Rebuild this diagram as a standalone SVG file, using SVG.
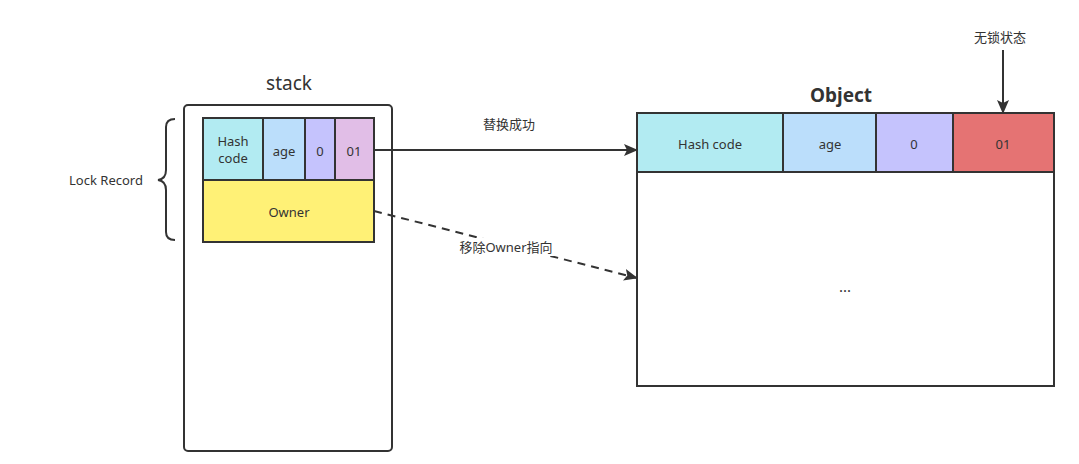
<svg xmlns="http://www.w3.org/2000/svg" width="1079" height="464" viewBox="0 0 1079 464">
<style>
text{font-family:"Noto Sans","Noto Sans CJK SC",sans-serif;fill:#333;text-anchor:middle;dominant-baseline:central}
.s{font-size:13px}
.c{stroke:#333;stroke-width:2}
.l{stroke:#333;stroke-width:2;fill:none}
</style>
<defs>
<marker id="ah2" markerWidth="14" markerHeight="14" refX="13" refY="7" orient="auto" markerUnits="userSpaceOnUse" viewBox="0 0 14 14">
<path d="M0,1 L14,7 L0,13 L3,7 Z" fill="#333"/>
</marker>
</defs>
<rect width="1079" height="464" fill="#fff"/>
<g id="stack">
<text x="289" y="83" style="font-size:19px">stack</text>
<rect x="184" y="105" width="208" height="346" rx="4" fill="#fff" class="c"/>
</g>
<g id="lockrecord">
<rect x="203" y="118" width="60" height="62" fill="#b2ebf2" class="c"/>
<text x="233" y="141" class="s">Hash</text>
<text x="233" y="158" class="s">code</text>
<rect x="263" y="118" width="42" height="62" fill="#bbdefb" class="c"/>
<text x="284" y="151" class="s">age</text>
<rect x="305" y="118" width="30" height="62" fill="#c5c3fd" class="c"/>
<text x="320" y="151" class="s">0</text>
<rect x="335" y="118" width="39" height="62" fill="#e1bee7" class="c"/>
<text x="354" y="151" class="s">01</text>
<rect x="203" y="180" width="171" height="62" fill="#fff176" class="c"/>
<text x="289" y="212" class="s">Owner</text>
</g>
<g id="brace">
<path d="M175,119 Q166,119 166,127 L166,170 Q166,179 158,180 Q166,181 166,190 L166,232 Q166,240 175,240" class="l" stroke-width="1.5"/>
<text x="106" y="180" class="s">Lock Record</text>
</g>
<g id="object">
<text x="841" y="95" style="font-size:19px;font-weight:bold">Object</text>
<rect x="637" y="113" width="417" height="273" fill="#fff" class="c"/>
<rect x="637" y="113" width="146" height="59" fill="#b2ebf2" class="c"/>
<text x="710" y="144" class="s">Hash code</text>
<rect x="783" y="113" width="93" height="59" fill="#bbdefb" class="c"/>
<text x="830" y="144" class="s">age</text>
<rect x="876" y="113" width="77" height="59" fill="#c5c3fd" class="c"/>
<text x="914" y="144" class="s">0</text>
<rect x="953" y="113" width="101" height="59" fill="#e57373" class="c"/>
<text x="1003" y="144" class="s">01</text>
<text x="845" y="286" style="font-size:15px">...</text>
</g>
<g id="unlock">
<text x="1000" y="37" class="s">无锁状态</text>
</g>
<g id="connectors">
<line x1="374" y1="150" x2="637" y2="150" class="l" marker-end="url(#ah2)"/>
<line x1="374" y1="211" x2="637" y2="278" class="l" stroke-dasharray="8,6" marker-end="url(#ah2)"/>
<line x1="1003" y1="50" x2="1003" y2="113" class="l" marker-end="url(#ah2)"/>
<text x="509" y="124" class="s">替换成功</text>
<rect x="456" y="238" width="101" height="18" fill="#fff"/>
<text x="506" y="247" class="s">移除Owner指向</text>
</g>
</svg>
